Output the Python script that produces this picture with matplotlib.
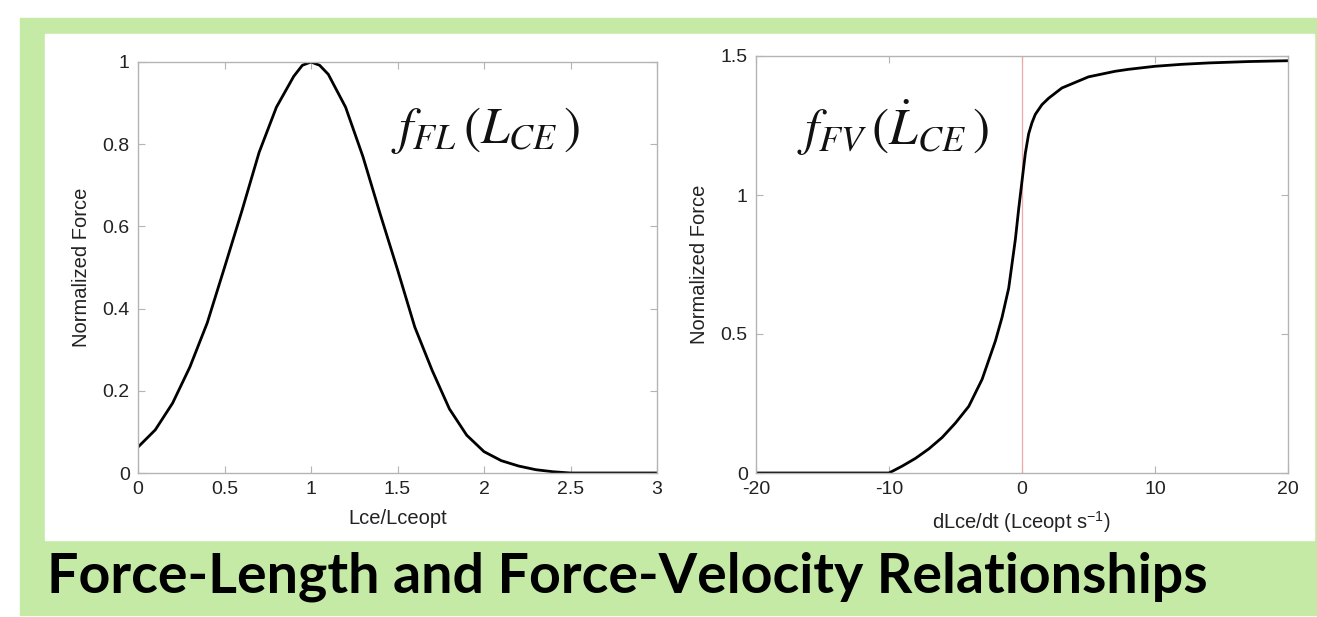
import matplotlib
matplotlib.use('Agg')
import matplotlib.pyplot as plt
from matplotlib.patches import Rectangle

plt.rcParams['font.family'] = ['Liberation Sans', 'DejaVu Sans']
plt.rcParams['mathtext.fontset'] = 'stix'

# force-length curve
fl_x = [0.0, 0.1, 0.2, 0.3, 0.4, 0.5, 0.6, 0.7, 0.8, 0.9, 0.95, 1.0, 1.05, 1.1, 1.2, 1.3,
        1.4, 1.5, 1.6, 1.7, 1.8, 1.9, 2.0, 2.1, 2.2, 2.3, 2.4, 2.5, 3.0]
fl_y = [0.063, 0.105, 0.17, 0.258, 0.365, 0.5, 0.637, 0.78, 0.89, 0.965, 0.992, 1.0, 0.992,
        0.97, 0.89, 0.77, 0.63, 0.495, 0.355, 0.25, 0.156, 0.092, 0.052, 0.03, 0.017,
        0.008, 0.003, 0.0, 0.0]

# force-velocity curve
fv_x = [-20, -10, -9, -8, -7, -6, -5, -4, -3, -2, -1.5, -1, -0.5, -0.25, 0, 0.25, 0.5,
        0.75, 1, 1.5, 2, 3, 4, 5, 6, 7, 8, 10, 12, 14, 17, 20]
fv_y = [0.0, 0.0, 0.025, 0.053, 0.087, 0.128, 0.18, 0.24, 0.337, 0.475, 0.56, 0.665, 0.84,
        0.95, 1.05, 1.15, 1.22, 1.26, 1.29, 1.325, 1.348, 1.385, 1.405, 1.425, 1.435,
        1.445, 1.452, 1.463, 1.47, 1.475, 1.48, 1.483]

fl_ticks = [0, 0.5, 1, 1.5, 2, 2.5, 3]
fl_ticklabels = ['0', '0.5', '1', '1.5', '2', '2.5', '3']
fl_yticks = [0, 0.2, 0.4, 0.6, 0.8, 1]
fl_yticklabels = ['0', '0.2', '0.4', '0.6', '0.8', '1']
fv_ticks = [-20, -10, 0, 10, 20]
fv_ticklabels = ['-20', '-10', '0', '10', '20']
fv_yticks = [0, 0.5, 1, 1.5]
fv_yticklabels = ['0', '0.5', '1', '1.5']

green = '#c5eaa6'
frame = '#b4b4b4'
txt = '#222222'
W, H = 1317, 617

fig = plt.figure(figsize=(W / 100, H / 100), dpi=100)
fig.patch.set_facecolor('white')
fig.add_artist(Rectangle((20 / W, 2 / H), 1 - 20 / W, (615 - 18) / H,
                         transform=fig.transFigure, color=green, zorder=0))
fig.add_artist(Rectangle((45 / W, (H - 540) / H), (1314 - 45) / W, (540 - 34) / H,
                         transform=fig.transFigure, color='white', zorder=0))


def style(ax):
    for s in ax.spines.values():
        s.set_color(frame)
        s.set_linewidth(1.0)
    ax.tick_params(direction='in', length=5, width=0.8, color=frame,
                   top=True, right=True, labelsize=14, labelcolor=txt, pad=6)


ax1 = fig.add_axes([138 / W, (H - 473) / H, (657 - 138) / W, (473 - 62) / H])
ax1.plot(fl_x, fl_y, c='k', lw=2.0)
ax1.set_xlim(0, 3)
ax1.set_ylim(0, 1)
ax1.set_xticks(fl_ticks, fl_ticklabels)
ax1.set_yticks(fl_yticks, fl_yticklabels)
ax1.set_xlabel('Lce/Lceopt', fontsize=14.5, color=txt, labelpad=8)
ax1.set_ylabel('Normalized Force', fontsize=14.5, color=txt, labelpad=8.5)
ax1.text(0.487, 0.802, r'$f_{FL}\,(L_{CE}\,)$', transform=ax1.transAxes,
         fontsize=37, color='#111111')
style(ax1)

ax2 = fig.add_axes([756 / W, (H - 473) / H, (1288 - 756) / W, (473 - 56) / H])
ax2.axvline(0, color='#eeaaaa', lw=0.9)
ax2.plot(fv_x, fv_y, c='k', lw=2.0)
ax2.set_xlim(-20, 20)
ax2.set_ylim(0, 1.5)
ax2.set_xticks(fv_ticks, fv_ticklabels)
ax2.set_yticks(fv_yticks, fv_yticklabels)
ax2.set_xlabel(r'dLce/dt (Lceopt s$^{\mathregular{-1}}$)', fontsize=14.5,
               color=txt, labelpad=8)
ax2.set_ylabel('Normalized Force', fontsize=14.5, color=txt, labelpad=8)
ax2.text(0.077, 0.787, r'$f_{FV}\,(\dot{L}_{CE}\,)$', transform=ax2.transAxes,
         fontsize=37, color='#111111')
style(ax2)

fig.text(47 / W, (H - 592) / H, 'Force-Length and Force-Velocity Relationships',
         fontsize=40, fontweight='bold', family='Lato', color='black')

fig.savefig('out.png', dpi=100)
